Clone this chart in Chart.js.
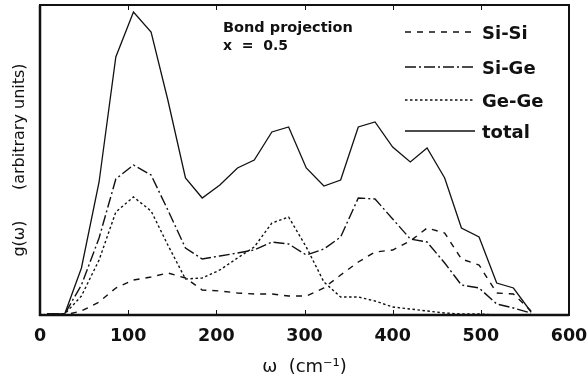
<!DOCTYPE html>
<html>
<head>
<meta charset="utf-8">
<script src="https://cdn.jsdelivr.net/npm/chart.js@4.4.1/dist/chart.umd.min.js"></script>
<style>
    html, body { margin: 0; padding: 0; background: #fff; }
    #wrap { width: 587px; height: 381px; position: relative; }
</style>
</head>
<body>
<div id="wrap"><canvas id="dosChart"></canvas></div>
<script>
// frequency grid (cm^-1) and partial densities, arbitrary units
const omega = [8, 28, 47, 67, 86, 106, 126, 145, 165, 184, 204, 224, 243, 263, 282, 302, 322, 341, 361, 380, 400, 420, 439, 459, 478, 498, 518, 537, 557];
const siSi  = [0, 0, 4, 13, 27, 35, 38, 42, 37, 25, 24, 22, 21, 21, 19, 19, 27, 40, 53, 63, 65, 74, 87, 82, 56, 50, 22, 21, 4];
const siGe  = [1, 1, 30, 77, 136, 150, 140, 105, 67, 56, 59, 62, 65, 73, 71, 60, 66, 78, 117, 116, 96, 76, 73, 52, 30, 27, 11, 7, 2];
const geGe  = [1, 1, 19, 55, 103, 118, 104, 70, 36, 37, 45, 57, 68, 92, 98, 68, 33, 18, 18, 14, 8, 6, 4, 2, 1, 1, 0, 0, 0];
const total = [1, 1, 47, 133, 258, 303, 283, 215, 137, 117, 130, 147, 155, 183, 188, 147, 129, 135, 188, 193, 168, 153, 167, 137, 87, 78, 32, 27, 3];

const seriesNames = ['Si-Si', 'Si-Ge', 'Ge-Ge', 'total'];
const xTicks = [0, 100, 200, 300, 400, 500, 600];
const noteLines = ['Bond projection', 'x  =  0.5'];

const INK = '#111';
const FONT = '"DejaVu Sans", sans-serif';

const toPoints = (ys) => omega.map((w, i) => ({ x: w, y: ys[i] }));

const styles = [
    { dash: [6, 6], width: 1.4 },
    { dash: [11, 3, 2, 3], width: 1.4 },
    { dash: [2.5, 2.5], width: 1.4 },
    { dash: [], width: 1.3 }
];

const frameAndLegend = {
    id: 'frameAndLegend',
    afterDraw(chart) {
        const { ctx, chartArea: a, scales } = chart;
        ctx.save();
        ctx.strokeStyle = INK;

        // frame
        ctx.lineWidth = 2;
        ctx.strokeRect(a.left, a.top, a.right - a.left, a.bottom - a.top);
        ctx.lineWidth = 2.5;
        ctx.beginPath();
        ctx.moveTo(a.left, a.top);
        ctx.lineTo(a.left, a.bottom);
        ctx.lineTo(a.right, a.bottom);
        ctx.stroke();

        // inward ticks, top and bottom
        ctx.lineWidth = 1;
        xTicks.slice(1, -1).forEach(v => {
            const px = Math.round(scales.x.getPixelForValue(v)) + 0.5;
            ctx.beginPath();
            ctx.moveTo(px, a.bottom);
            ctx.lineTo(px, a.bottom - 5);
            ctx.moveTo(px, a.top);
            ctx.lineTo(px, a.top + 5);
            ctx.stroke();
        });

        // legend
        const legY = [32, 67, 100, 131];
        chart.data.datasets.forEach((ds, i) => {
            ctx.setLineDash(ds.borderDash || []);
            ctx.lineWidth = ds.borderWidth;
            ctx.beginPath();
            ctx.moveTo(405, legY[i]);
            ctx.lineTo(475, legY[i]);
            ctx.stroke();
            ctx.setLineDash([]);
            ctx.fillStyle = INK;
            ctx.font = 'bold 18px ' + FONT;
            ctx.textBaseline = 'alphabetic';
            ctx.fillText(ds.label, 482, legY[i] + 7);
        });

        // annotation
        ctx.font = 'bold 14.5px ' + FONT;
        ctx.fillText(noteLines[0], 223, 32);
        ctx.font = 'bold 14px ' + FONT;
        ctx.fillText(noteLines[1], 223, 50);
        ctx.restore();
    }
};

const series = [siSi, siGe, geGe, total];

new Chart(document.getElementById('dosChart').getContext('2d'), {
    type: 'line',
    data: {
        datasets: series.map((ys, i) => ({
            label: seriesNames[i],
            data: toPoints(ys),
            borderColor: INK,
            borderWidth: styles[i].width,
            borderDash: styles[i].dash,
            pointRadius: 0,
            tension: 0,
            fill: false
        }))
    },
    options: {
        responsive: true,
        maintainAspectRatio: false,
        animation: false,
        layout: { padding: { top: 5, right: 18, left: 0, bottom: 0 } },
        scales: {
            x: {
                type: 'linear',
                min: 0,
                max: 600,
                afterBuildTicks: (s) => { s.ticks = xTicks.map(v => ({ value: v })); },
                ticks: { color: INK, padding: 11, font: { family: FONT, size: 17.5, weight: 'bold' } },
                grid: { display: false, drawTicks: false },
                border: { display: false },
                title: {
                    display: true,
                    text: 'ω  (cm⁻¹)',
                    color: INK,
                    font: { family: FONT, size: 18 },
                    padding: { top: 0, bottom: 3 }
                },
                afterFit: (s) => {
                    s.height = 66;
                    s.paddingLeft = 0;
                    s.paddingRight = 0;
                }
            },
            y: {
                min: 0,
                max: 310,
                ticks: { display: false },
                grid: { display: false, drawTicks: false },
                border: { display: false },
                title: {
                    display: true,
                    text: 'g(ω)      (arbitrary units)',
                    color: INK,
                    font: { family: FONT, size: 16 },
                    padding: { top: 10, bottom: 0 }
                },
                afterFit: (s) => { s.width = 40; }
            }
        },
        plugins: {
            legend: { display: false },
            tooltip: { enabled: false }
        }
    },
    plugins: [frameAndLegend]
});
</script>
</body>
</html>
